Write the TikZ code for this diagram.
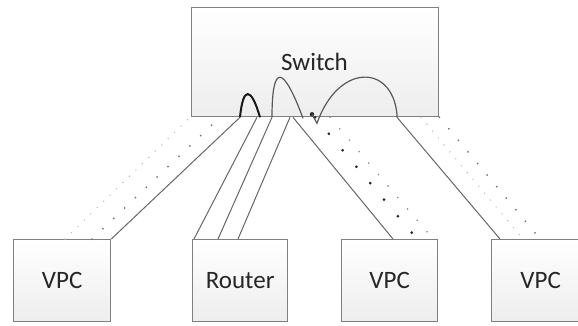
\documentclass[tikz,border=0pt]{standalone}
\usepackage{fontspec}
\setmainfont{Carlito}
\usetikzlibrary{calc}
\tikzset{
  devbox/.style={draw=black!50, line width=1.3pt, top color=white, bottom color=black!7,
    inner sep=0pt, anchor=north west, text=black!85,
    font=\fontsize{25}{28}\selectfont},
  link/.style={draw=black!60, line width=1pt},
  bump/.style={draw=black!90, line width=2pt},
  arc/.style={draw=black!65, line width=1.2pt},
  bigdots/.style={draw=black!85, line width=3pt, line cap=round, dash pattern=on 0pt off 21.5pt},
  middots/.style={draw=black!55, line width=2pt, line cap=round, dash pattern=on 0pt off 15pt},
  faintdots/.style={draw=black!25, line width=1.6pt, line cap=round, dash pattern=on 0pt off 9pt}
}
\begin{document}
\begin{tikzpicture}[x=1pt,y=-1pt]
\useasboundingbox (0,0) rectangle (578,326);
\begin{scope}
\clip (0,0) rectangle (578,326);
% nodes
\node[devbox, minimum width=247pt, minimum height=109pt] (sw) at (191,7) {};
\node[text=black!85, font=\fontsize{25}{28}\selectfont] (swl) at (314.5,62) {Switch};
\node[devbox, minimum width=97pt, minimum height=82pt] (vpc1) at (13,239) {VPC};
\node[devbox, minimum width=95pt, minimum height=82pt] (rt) at (192,239) {Router};
\node[devbox, minimum width=96pt, minimum height=82pt] (vpc3) at (341,239) {VPC};
\node[devbox, minimum width=98pt, minimum height=82pt] (vpc4) at (491,239) {VPC};

% VPC1 links
\draw[faintdots] ([xshift=52pt]vpc1.north west) -- ([xshift=-1pt]sw.south west);
\draw[middots] ([xshift=79pt]vpc1.north west) -- ([xshift=29pt]sw.south west);
\draw[link] (vpc1.north east) -- ([xshift=49pt]sw.south west);

% Router links
\draw[link] ([xshift=2pt]rt.north west) -- ([xshift=66pt]sw.south west);
\draw[link] ([xshift=26pt]rt.north west) -- ([xshift=81pt]sw.south west);
\draw[link] ([xshift=46pt]rt.north west) -- ([xshift=99pt]sw.south west);

% VPC3 links
\draw[link] ([xshift=52pt]vpc3.north west) -- ([xshift=102pt]sw.south west);
\draw[bigdots] ([xshift=124pt]sw.south west) -- ([xshift=76pt]vpc3.north west);
\draw[middots, draw=black!45, line width=1.8pt] ([xshift=139pt]sw.south west) -- ([xshift=92pt]vpc3.north west);

% VPC4 links
\draw[faintdots] ([xshift=230pt]sw.south west) -- ([xshift=32pt]vpc4.north west);
\draw[middots] (sw.south east) -- ([xshift=49pt]vpc4.north west);
\draw[link] ([xshift=9pt]vpc4.north west) -- ([xshift=206pt]sw.south west);

% curves on the switch
\draw[bump] ([xshift=49pt]sw.south west) .. controls +(3,-31) and +(-9,-31) .. ([xshift=69pt]sw.south west);
\draw[arc] ([xshift=81pt]sw.south west) .. controls +(0,-54) and +(-20,-54) .. ([xshift=112pt,yshift=-1pt]sw.south west);
\fill[black!85] ([xshift=121pt,yshift=3pt]sw.south west) coordinate (d1) circle (2.2pt);
\draw[arc] (d1) -- ([xshift=126pt,yshift=-6pt]sw.south west) coordinate (v1)
  .. controls +(21,-60) and +(-5,-51) .. ([xshift=206pt,yshift=3pt]sw.south west)
  -- ([xshift=206pt]sw.south west);
\end{scope}
\end{tikzpicture}
\end{document}
